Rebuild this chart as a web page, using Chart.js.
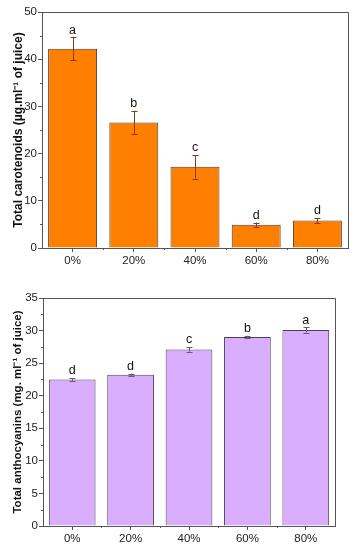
<!DOCTYPE html>
<html><head><meta charset="utf-8">
<script src="https://cdn.jsdelivr.net/npm/chart.js@4/dist/chart.umd.min.js"></script>
<style>
html,body{margin:0;padding:0;background:#fff;width:355px;height:550px;overflow:hidden}
.box{position:absolute;left:0;width:355px;height:275px}
canvas{display:block}
</style></head><body>
<div class="box" style="top:0"><canvas id="c1" width="355" height="275"></canvas></div>
<div class="box" style="top:275px"><canvas id="c2" width="355" height="275"></canvas></div>
<script>
const categories = ['0%', '20%', '40%', '60%', '80%'];
const carotenoids = [42.2, 26.6, 17.2, 4.9, 5.8];
const carotenoidsErr = [2.4, 2.5, 2.5, 0.5, 0.5];
const carotenoidsLetters = ['a', 'b', 'c', 'd', 'd'];
const anthocyanins = [22.5, 23.2, 27.1, 29.0, 30.1];
const anthocyaninsErr = [0.2, 0.2, 0.35, 0.2, 0.4];
const anthocyaninsLetters = ['d', 'd', 'c', 'b', 'a'];
const carotenoidAxis = {min: 0, max: 50, step: 10, minor: 5};
const anthocyaninAxis = {min: 0, max: 35, step: 5, minor: 2.5};

const FONT = "'Liberation Sans', Arial, sans-serif";
const AXIS = '#555555';

const errPlugin = {
  id: 'errs',
  afterDatasetsDraw(chart) {
    const o = chart.options.plugins.errs;
    const meta = chart.getDatasetMeta(0);
    const y = chart.scales.y;
    const ctx = chart.ctx;
    ctx.save();
    meta.data.forEach((bar, i) => {
      const v = chart.data.datasets[0].data[i];
      const e = o.err[i];
      const yt = y.getPixelForValue(v + e), yb = y.getPixelForValue(v - e);
      const x = Math.round(bar.x) + 0.5;
      ctx.strokeStyle = o.color; ctx.lineWidth = 1;
      ctx.beginPath();
      ctx.moveTo(x, yt); ctx.lineTo(x, yb);
      ctx.moveTo(x - 3, Math.round(yt) + 0.5); ctx.lineTo(x + 3, Math.round(yt) + 0.5);
      ctx.moveTo(x - 3, Math.round(yb) + 0.5); ctx.lineTo(x + 3, Math.round(yb) + 0.5);
      ctx.stroke();
      ctx.fillStyle = '#111';
      ctx.font = '12.5px ' + FONT;
      ctx.textAlign = 'center'; ctx.textBaseline = 'bottom';
      ctx.fillText(o.letters[i], bar.x, yt - 1);
    });
    ctx.restore();
  },
  afterDraw(chart) {
    const o = chart.options.plugins.errs;
    const a = chart.chartArea, ctx = chart.ctx, y = chart.scales.y, xs = chart.scales.x;
    ctx.save();
    ctx.strokeStyle = AXIS; ctx.lineWidth = 1;
    ctx.beginPath();
    ctx.moveTo(a.left, Math.round(a.top) + 0.5); ctx.lineTo(Math.round(a.right) + 0.5, Math.round(a.top) + 0.5);
    ctx.lineTo(Math.round(a.right) + 0.5, a.bottom);
    // minor y ticks
    for (let v = o.axis.min + o.axis.minor; v < o.axis.max; v += o.axis.step) {
      const py = Math.round(y.getPixelForValue(v)) + 0.5;
      ctx.moveTo(a.left - 2, py); ctx.lineTo(a.left, py);
    }
    // minor x ticks between categories
    for (let i = 0; i < categories.length - 1; i++) {
      const px = Math.round((xs.getPixelForTick(i) + xs.getPixelForTick(i + 1)) / 2) + 0.5;
      ctx.moveTo(px, a.bottom); ctx.lineTo(px, a.bottom + 2);
    }
    ctx.stroke();
    ctx.restore();
  }
};

function make(id, data, err, letters, axis, fill, border, errColor, title, titleSize, pad, yW, xH) {
  new Chart(document.getElementById(id), {
    type: 'bar',
    data: {
      labels: categories,
      datasets: [{data: data, backgroundColor: fill, borderColor: border, borderWidth: 1,
        barPercentage: 0.8, categoryPercentage: 1.0}]
    },
    options: {
      responsive: false, animation: false, devicePixelRatio: 1,
      layout: {padding: pad},
      plugins: {legend: {display: false}, tooltip: {enabled: false},
        errs: {err: err, letters: letters, color: errColor, axis: axis}},
      scales: {
        x: {
          grid: {drawOnChartArea: false, drawTicks: true, tickLength: 4, color: AXIS, offset: false},
          border: {display: true, color: AXIS},
          ticks: {color: '#222', font: {family: FONT, size: 11.5}, padding: 2},
          afterFit(s) { s.height = xH; }
        },
        y: {
          min: axis.min, max: axis.max,
          grid: {drawOnChartArea: false, drawTicks: true, tickLength: 4, color: AXIS},
          border: {display: true, color: AXIS},
          ticks: {stepSize: axis.step, color: '#222', font: {family: FONT, size: 11.5}, padding: 1},
          title: {display: true, text: title, color: '#111', font: {family: FONT, size: titleSize, weight: 'bold'}, padding: {top: 11, bottom: 0}},
          afterFit(s) { s.width = yW; }
        }
      }
    },
    plugins: [errPlugin]
  });
}

make('c1', carotenoids, carotenoidsErr, carotenoidsLetters, carotenoidAxis,
  '#FF8000', '#4a3a30', '#8a3a10', 'Total carotenoids (\u00B5g.ml\u207B\u00B9 of juice)', 12,
  {left: 0, top: 12, right: 7, bottom: 0}, 42, 27);
make('c2', anthocyanins, anthocyaninsErr, anthocyaninsLetters, anthocyaninAxis,
  '#D9AEFF', '#4a4056', '#6a5a7a', 'Total anthocyanins (mg. ml\u207B\u00B9 of juice)', 11.5,
  {left: 0, top: 23, right: 20, bottom: 0}, 43, 24);
</script>
</body></html>
